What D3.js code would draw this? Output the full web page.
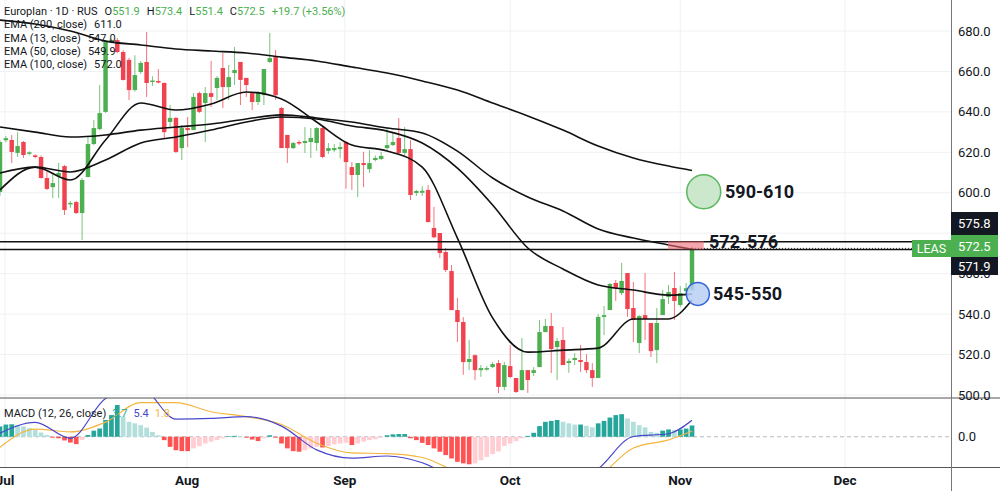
<!DOCTYPE html>
<html>
<head>
<meta charset="utf-8">
<script src="https://cdn.jsdelivr.net/npm/d3@7"></script>
<style>
  body { margin: 0; background: #ffffff; }
  svg { display: block; font-family: Roboto, "Noto Sans", sans-serif; }
</style>
</head>
<body>
<div id="chart"></div>
<script>
/////////////////////////////////////////////////////////
////////////////////// The data /////////////////////////
/////////////////////////////////////////////////////////

// Daily candles, one per trading session (index 0 = first visible bar)
var opens = [600.4, 626.0, 626.1, 619.7, 625.1, 619.3, 618.5, 617.7, 607.3, 602.8,
  608.3, 613.2, 594.4, 595.4, 590.0, 607.8, 624.1, 631.5, 640.0, 675.0,
  675.5, 669.6, 665.7, 650.8, 659.7, 664.7, 655.0, 655.3, 654.3, 635.0,
  637.0, 622.1, 632.0, 631.0, 649.3, 644.4, 649.3, 651.8, 661.7, 652.3,
  659.2, 664.7, 656.8, 649.3, 644.9, 648.3, 664.7, 667.1, 641.9, 628.6,
  622.1, 625.1, 624.6, 625.1, 624.6, 632.0, 620.7, 621.1, 621.6, 625.1,
  612.7, 608.8, 614.7, 611.7, 616.2, 616.7, 622.1, 623.6, 627.1, 619.7,
  621.6, 599.9, 600.0, 601.4, 582.6, 580.1, 570.7, 561.3, 542.0, 536.1,
  516.3, 519.7, 512.3, 512.8, 513.8, 515.8, 504.0, 514.3, 508.4, 502.4,
  512.3, 510.9, 513.8, 531.1, 534.1, 523.7, 527.2, 515.8, 517.3, 517.3,
  516.3, 512.3, 508.4, 538.6, 542.0, 555.4, 550.4, 560.3, 543.0, 525.7,
  539.5, 535.6, 522.2, 539.5, 548.4, 552.9, 544.5, 551.4, 551.9];
var highs = [626.0, 628.0, 628.6, 630.0, 625.6, 620.5, 619.0, 618.5, 610.3, 609.8,
  614.7, 613.7, 596.0, 596.0, 607.3, 627.6, 636.0, 653.3, 675.5, 676.0,
  676.5, 670.6, 666.7, 668.0, 665.2, 679.5, 657.6, 661.2, 654.5, 643.4,
  637.5, 633.5, 637.5, 649.3, 650.0, 652.3, 665.2, 657.7, 669.1, 663.2,
  672.1, 664.7, 656.8, 649.3, 650.3, 661.2, 679.0, 670.6, 642.4, 628.6,
  625.1, 626.0, 632.5, 632.0, 632.5, 632.5, 624.6, 624.1, 625.0, 625.6,
  615.2, 614.7, 620.2, 621.1, 618.5, 620.2, 632.5, 630.0, 637.0, 632.5,
  626.1, 601.4, 603.3, 603.8, 593.0, 580.1, 572.7, 564.2, 548.0, 538.5,
  527.2, 520.0, 514.8, 514.3, 516.3, 517.3, 516.3, 524.7, 508.4, 528.2,
  512.3, 513.8, 537.1, 537.6, 540.5, 528.2, 533.6, 518.0, 520.7, 524.7,
  520.2, 515.8, 540.0, 544.0, 555.4, 556.9, 565.3, 560.3, 555.9, 539.5,
  560.3, 535.6, 543.0, 551.9, 554.4, 560.8, 553.9, 555.4, 573.4];
var lows = [598.5, 625.0, 614.7, 617.7, 617.2, 618.5, 617.0, 607.0, 601.4, 597.4,
  597.4, 589.0, 592.5, 589.5, 576.6, 607.6, 623.6, 631.0, 639.5, 674.0,
  669.0, 655.5, 645.9, 650.0, 658.7, 647.4, 652.8, 654.0, 627.1, 632.5,
  619.7, 616.2, 622.6, 631.0, 639.5, 625.1, 642.4, 645.9, 641.9, 645.9,
  653.3, 643.4, 647.4, 640.9, 643.4, 643.4, 664.2, 645.9, 622.1, 614.7,
  621.6, 623.6, 619.7, 617.2, 620.7, 617.2, 619.2, 620.2, 617.0, 602.0,
  601.4, 597.9, 602.8, 609.8, 615.5, 616.2, 621.1, 623.1, 618.7, 618.7,
  596.4, 598.4, 598.4, 585.5, 577.6, 567.7, 560.8, 542.0, 526.2, 510.0,
  512.3, 507.4, 509.0, 512.0, 513.3, 501.0, 502.4, 508.4, 501.0, 502.4,
  501.0, 509.4, 513.8, 531.1, 510.9, 507.4, 514.8, 511.0, 514.8, 511.3,
  510.9, 504.0, 508.4, 529.6, 542.0, 546.5, 549.4, 538.6, 526.2, 520.7,
  527.2, 518.8, 515.8, 539.5, 545.0, 537.1, 543.5, 549.9, 551.4];
var closes = [625.1, 627.0, 620.2, 623.1, 618.7, 620.0, 617.7, 607.3, 601.9, 604.8,
  609.8, 591.5, 595.0, 590.0, 606.3, 624.1, 632.0, 639.4, 675.0, 675.6,
  669.6, 655.8, 650.8, 658.2, 664.2, 654.3, 655.5, 654.5, 630.0, 637.0,
  620.2, 632.0, 631.0, 647.4, 640.0, 649.3, 647.4, 656.8, 652.3, 657.2,
  660.7, 655.8, 653.3, 644.9, 649.8, 661.2, 666.6, 648.3, 622.1, 622.1,
  624.6, 624.6, 625.6, 627.1, 632.0, 617.7, 622.1, 622.1, 622.6, 615.2,
  608.8, 614.7, 613.7, 614.7, 617.2, 618.2, 623.6, 625.1, 619.7, 621.6,
  598.9, 600.9, 601.0, 585.5, 578.0, 570.2, 561.8, 542.0, 536.1, 516.3,
  517.8, 512.3, 513.3, 513.3, 515.3, 504.0, 514.8, 508.9, 501.5, 512.3,
  507.4, 512.3, 531.1, 534.1, 522.7, 526.7, 514.8, 516.8, 518.3, 516.3,
  512.3, 508.4, 538.6, 539.5, 554.9, 552.9, 556.4, 542.5, 537.1, 539.0,
  537.6, 521.7, 535.6, 547.4, 550.9, 546.5, 550.4, 552.8, 572.5];

// EMA values read every 6 bars
var emaIdx = [0, 6, 12, 18, 24, 30, 36, 42, 48, 54, 60, 66, 72, 78, 84, 90, 96, 102, 108, 114, 118];
var ema200 = [685.4, 683.5, 680.0, 675.0, 673.1, 671.1, 670.1, 669.1, 667.1, 665.2, 662.2,
  659.2, 655.3, 650.8, 644.4, 638.0, 631.0, 623.1, 617.2, 613.2, 611.0];
var ema100 = [632.5, 630.0, 627.6, 628.6, 631.0, 632.5, 634.0, 636.5, 638.5, 637.0, 635.0,
  632.0, 629.6, 620.6, 607.3, 597.9, 591.0, 582.1, 577.6, 574.2, 572.0];
var ema50 = [609.8, 612.7, 610.3, 616.2, 624.6, 627.6, 631.0, 635.0, 637.5, 636.5, 633.0,
  630.5, 624.6, 612.2, 594.0, 572.7, 562.3, 554.4, 551.9, 549.4, 549.9];
var ema13 = [601.4, 612.7, 606.3, 626.1, 644.4, 640.9, 643.9, 649.8, 646.4, 635.0, 623.6,
  620.7, 612.7, 577.6, 538.1, 521.2, 522.2, 523.2, 537.6, 537.6, 547.0];

// MACD (12, 26, close)
var macdHist = [3.4, 4.0, 4.1, 3.9, 3.4, 2.8, 2.2, 1.4, 0.6, -0.3,
  -0.5, -1.2, -1.9, -2.4, -1.0, 0.6, 2.0, 2.7, 5.5, 7.1,
  10.4, 6.6, 4.9, 4.4, 3.8, 3.0, 1.6, 0.5, -1.1, -3.3,
  -4.4, -4.7, -4.7, -3.8, -3.1, -2.2, -1.6, -1.1, -0.5, 0.2,
  0.3, 0.2, -0.3, -0.9, -1.4, -0.5, 0.5, -0.3, -2.2, -3.8,
  -4.7, -4.9, -4.4, -3.8, -3.3, -3.5, -3.0, -2.5, -2.2, -1.9,
  -2.7, -2.2, -1.6, -1.1, -0.8, -0.3, 0.5, 0.8, 0.9, 0.9,
  -0.5, -1.1, -2.0, -2.7, -3.8, -4.9, -6.0, -7.1, -8.2, -8.7,
  -9.0, -8.7, -7.7, -6.6, -5.7, -4.8, -3.0, -2.2, -1.4, -0.5,
  0.3, 1.3, 3.5, 4.9, 5.2, 5.5, 4.9, 4.4, 4.0, 4.0,
  3.6, 3.1, 4.4, 5.2, 6.3, 7.1, 7.4, 6.0, 4.9, 3.8,
  3.1, 1.6, 1.3, 2.0, 2.4, 2.2, 2.4, 2.7, 3.7];
var macdLine = [1.2, 4.7, -0.5, 12.5, 16.0, 5.8, 6.0, 6.6, 3.5, -4.3, -7.0,
  -6.3, -8.5, -14.0, -19.0, -20.0, -17.0, -10.5, 0.1, 1.0, 5.4];
var signalLine = [-3.4, 2.5, 1.6, 4.8, 11.2, 11.2, 8.2, 6.6, 4.0, -2.1, -5.3,
  -5.5, -6.8, -11.5, -15.0, -17.0, -17.0, -13.0, -3.7, -1.0, 1.8];

// Time axis (bar index of each month start)
var monthLabels = ['Jul', 'Aug', 'Sep', 'Oct', 'Nov', 'Dec'];
var monthIdx = [0.85, 31.9, 58.8, 87, 116, 144.1];

// Price axis and drawn levels
var priceTicks = [500, 520, 540, 560, 580, 600, 620, 640, 660, 680];
var levelPrices = [575.8, 571.9];
var lastPrice = 572.5;
var targetZone = [590, 610];
var resistZone = [572, 576];
var supportZone = [545, 550];

/////////////////////////////////////////////////////////
////////////////////// Layout ///////////////////////////
/////////////////////////////////////////////////////////

var width = 1000, height = 491;
var plotRight = 951;
var priceBottom = 398, macdBottom = 467.5;
var green = '#4caf50', red = '#f0434f', ink = '#131722';
var legendSize = '11px';

var x = d3.scaleLinear().domain([0, 118]).range([0, 692]);
var slot = x(1) - x(0);
var y = d3.scaleLinear().domain([500, 680]).range([395, 31]);
var ym = d3.scaleLinear().domain([-9.9, 12.7]).range([467, 398]);
var fmt = d3.format('.1f');

var svg = d3.select('#chart').append('svg')
  .attr('width', width)
  .attr('height', height);

var defs = svg.append('defs');
defs.append('clipPath').attr('id', 'clip-price')
  .append('rect').attr('x', 0).attr('y', 0).attr('width', plotRight).attr('height', priceBottom);
defs.append('clipPath').attr('id', 'clip-macd')
  .append('rect').attr('x', 0).attr('y', priceBottom).attr('width', plotRight).attr('height', macdBottom - priceBottom);

/////////////////////////////////////////////////////////
////////////////////// Grid /////////////////////////////
/////////////////////////////////////////////////////////

var grid = svg.append('g').attr('class', 'grid');
grid.selectAll('.hgrid')
  .data(priceTicks)
  .enter().append('line')
  .attr('x1', 0).attr('x2', plotRight)
  .attr('y1', function(d) { return y(d); })
  .attr('y2', function(d) { return y(d); })
  .style('stroke', '#eff1f4');
grid.selectAll('.vgrid')
  .data(monthIdx)
  .enter().append('line')
  .attr('x1', function(d) { return x(d); })
  .attr('x2', function(d) { return x(d); })
  .attr('y1', 0).attr('y2', macdBottom)
  .style('stroke', '#eff1f4');

// MACD zero line
svg.append('line')
  .attr('x1', 0).attr('x2', plotRight)
  .attr('y1', ym(0)).attr('y2', ym(0))
  .style('stroke', '#b7bac2')
  .style('stroke-dasharray', '4,3');

/////////////////////////////////////////////////////////
////////////////////// Candles //////////////////////////
/////////////////////////////////////////////////////////

var pricePane = svg.append('g').attr('clip-path', 'url(#clip-price)');
var candle = pricePane.selectAll('.candle')
  .data(d3.range(opens.length))
  .enter().append('g')
  .attr('class', 'candle');

candle.append('line')
  .attr('x1', function(i) { return x(i); })
  .attr('x2', function(i) { return x(i); })
  .attr('y1', function(i) { return y(highs[i]); })
  .attr('y2', function(i) { return y(lows[i]); })
  .style('stroke', function(i) { return closes[i] >= opens[i] ? green : red; })
  .style('stroke-opacity', 0.75)
  .style('stroke-width', 1);

candle.append('rect')
  .attr('x', function(i) { return x(i) - slot * 0.38; })
  .attr('width', slot * 0.76)
  .attr('y', function(i) { return y(Math.max(opens[i], closes[i])); })
  .attr('height', function(i) { return Math.max(1.5, Math.abs(y(opens[i]) - y(closes[i]))); })
  .style('fill', function(i) { return closes[i] >= opens[i] ? green : red; });

/////////////////////////////////////////////////////////
////////////////////// EMAs /////////////////////////////
/////////////////////////////////////////////////////////

var emaLine = d3.line()
  .x(function(d) { return x(d[0]); })
  .y(function(d) { return y(d[1]); })
  .curve(d3.curveMonotoneX);

[ema200, ema100, ema50, ema13].forEach(function(series) {
  pricePane.append('path')
    .datum(emaIdx.map(function(idx, k) { return [idx, series[k]]; }))
    .attr('d', emaLine)
    .style('fill', 'none')
    .style('stroke', '#111')
    .style('stroke-width', 1.6);
});

// Horizontal levels
levelPrices.forEach(function(p) {
  svg.append('line')
    .attr('x1', 0).attr('x2', plotRight)
    .attr('y1', y(p)).attr('y2', y(p))
    .style('stroke', '#111')
    .style('stroke-width', 1.5);
});
svg.append('line')
  .attr('x1', x(118)).attr('x2', plotRight)
  .attr('y1', y(lastPrice)).attr('y2', y(lastPrice))
  .style('stroke', '#333')
  .style('stroke-dasharray', '1,2');

/////////////////////////////////////////////////////////
////////////////////// Annotations //////////////////////
/////////////////////////////////////////////////////////

var ann = svg.append('g');
ann.append('rect')
  .attr('x', x(113.9)).attr('width', x(120) - x(113.9))
  .attr('y', y(resistZone[1])).attr('height', y(resistZone[0]) - y(resistZone[1]))
  .style('fill', '#ee6b77').style('fill-opacity', 0.6);
ann.append('circle')
  .attr('cx', x(120)).attr('cy', y(d3.mean(targetZone)) - 1)
  .attr('r', 17)
  .style('fill', '#cbe8cc').style('stroke', '#5cb85f').style('stroke-width', 1.5);
ann.append('circle')
  .attr('cx', x(119)).attr('cy', y(supportZone[1]))
  .attr('r', 11.5)
  .style('fill', '#b9cff5').style('fill-opacity', 0.85)
  .style('stroke', '#2f62d8').style('stroke-width', 1.5);

ann.append('text').attr('x', 725).attr('y', y(d3.mean(targetZone)) - 1).attr('dy', '0.35em')
  .style('font-size', '18px').style('font-weight', 'bold').style('fill', ink)
  .text(targetZone.join('-'));
ann.append('text').attr('x', 709).attr('y', y(resistZone[1]) + 0.5).attr('dy', '0.35em')
  .style('font-size', '18px').style('font-weight', 'bold').style('fill', ink)
  .text(resistZone.join('-'));
ann.append('text').attr('x', 713).attr('y', y(supportZone[1])).attr('dy', '0.35em')
  .style('font-size', '18px').style('font-weight', 'bold').style('fill', ink)
  .text(supportZone.join('-'));

/////////////////////////////////////////////////////////
////////////////////// MACD /////////////////////////////
/////////////////////////////////////////////////////////

var macdPane = svg.append('g').attr('clip-path', 'url(#clip-macd)');
macdPane.selectAll('.hist')
  .data(macdHist)
  .enter().append('rect')
  .attr('x', function(d, i) { return x(i) - slot * 0.4; })
  .attr('width', slot * 0.8)
  .attr('y', function(d) { return d >= 0 ? ym(d) : ym(0); })
  .attr('height', function(d) { return Math.abs(ym(d) - ym(0)); })
  .style('fill', function(d, i) {
    var prev = i > 0 ? macdHist[i - 1] : d - 1;
    if (d >= 0) return d >= prev ? '#26a69a' : '#b2dfdb';
    return d <= prev ? '#ff5252' : '#ffcdd2';
  });

var macdPath = d3.line()
  .x(function(d) { return x(d[0]); })
  .y(function(d) { return ym(d[1]); })
  .curve(d3.curveMonotoneX);
macdPane.append('path')
  .datum(emaIdx.map(function(idx, k) { return [idx, signalLine[k]]; }))
  .attr('d', macdPath)
  .style('fill', 'none').style('stroke', '#f4b63f').style('stroke-width', 1.2);
macdPane.append('path')
  .datum(emaIdx.map(function(idx, k) { return [idx, macdLine[k]]; }))
  .attr('d', macdPath)
  .style('fill', 'none').style('stroke', '#4a46cc').style('stroke-width', 1.2);

/////////////////////////////////////////////////////////
////////////////////// Frame & axes /////////////////////
/////////////////////////////////////////////////////////

svg.append('line').attr('x1', 0).attr('x2', width).attr('y1', priceBottom).attr('y2', priceBottom)
  .style('stroke', '#555').style('stroke-width', 1.2);
svg.append('line').attr('x1', 0).attr('x2', width).attr('y1', macdBottom).attr('y2', macdBottom)
  .style('stroke', '#555').style('stroke-width', 1.2);
svg.append('line').attr('x1', plotRight + 0.5).attr('x2', plotRight + 0.5).attr('y1', 0).attr('y2', height)
  .style('stroke', '#777').style('stroke-width', 1);

// Right price axis (580 sits fully under the level tags, so it is not labelled)
svg.selectAll('.ptick')
  .data(priceTicks.filter(function(d) { return y(d) < 210 || y(d) > 262; }))
  .enter().append('text')
  .attr('x', 958)
  .attr('y', function(d) { return y(d); })
  .attr('dy', '0.35em')
  .style('font-size', '13px')
  .style('fill', ink)
  .text(function(d) { return fmt(d); });
svg.append('text').attr('x', 958).attr('y', ym(0)).attr('dy', '0.35em')
  .style('font-size', '13px').style('fill', ink).text(fmt(0));

// Level labels on the axis
var tags = [
  {v: levelPrices[0], top: 212, bottom: 235, fill: ink},
  {v: lastPrice, top: 235, bottom: 257, fill: green},
  {v: levelPrices[1], top: 257, bottom: 275, fill: ink}
];
tags.forEach(function(t) {
  svg.append('rect').attr('x', plotRight).attr('y', t.top)
    .attr('width', 47).attr('height', t.bottom - t.top).style('fill', t.fill);
  svg.append('text').attr('x', 958).attr('y', (t.top + t.bottom) / 2).attr('dy', '0.35em')
    .style('font-size', '13px').style('fill', '#fff').text(fmt(t.v));
});
svg.append('rect').attr('x', 912).attr('y', 240).attr('width', plotRight - 912).attr('height', 17)
  .style('fill', green);
svg.append('text').attr('x', 931.5).attr('y', 248.5).attr('dy', '0.35em')
  .attr('text-anchor', 'middle')
  .style('font-size', '12.5px').style('fill', '#fff').text('LEAS');

// Month labels
svg.selectAll('.month')
  .data(monthLabels)
  .enter().append('text')
  .attr('x', function(d, i) { return x(monthIdx[i]); })
  .attr('y', 480)
  .attr('dy', '0.35em')
  .attr('text-anchor', 'middle')
  .style('font-size', '13.5px')
  .style('font-weight', 'bold')
  .style('fill', ink)
  .text(function(d) { return d; });

/////////////////////////////////////////////////////////
////////////////////// Legends //////////////////////////
/////////////////////////////////////////////////////////

var last = opens.length - 1;
var change = closes[last] - closes[last - 1];
var head = svg.append('text').attr('y', 11).attr('dy', '0.35em').style('font-size', legendSize);
head.append('tspan').attr('x', 4).style('fill', ink).text('Europlan · 1D · RUS');
[['O', opens[last]], ['H', highs[last]], ['L', lows[last]], ['C', closes[last]]]
  .forEach(function(p) {
    head.append('tspan').attr('dx', 7).style('fill', ink).text(p[0]);
    head.append('tspan').style('fill', green).text(fmt(p[1]));
  });
head.append('tspan').attr('dx', 7).style('fill', green)
  .text('+' + fmt(change) + ' (+' + d3.format('.2f')(change / closes[last - 1] * 100) + '%)');

var emaLegend = [['EMA (200, close)', ema200], ['EMA (13, close)', ema13],
  ['EMA (50, close)', ema50], ['EMA (100, close)', ema100]];
emaLegend.forEach(function(e, k) {
  var t = svg.append('text').attr('x', 4).attr('y', 24.5 + k * 13.3).attr('dy', '0.35em')
    .style('font-size', legendSize).style('fill', ink);
  t.append('tspan').text(e[0]);
  t.append('tspan').attr('dx', 7).text(fmt(e[1][e[1].length - 1]));
});

var ml = svg.append('text').attr('x', 4).attr('y', 413).attr('dy', '0.35em').style('font-size', legendSize);
ml.append('tspan').style('fill', ink).text('MACD (12, 26, close)');
ml.append('tspan').attr('dx', 6).style('fill', '#26a69a').text(fmt(macdHist[last]));
ml.append('tspan').attr('dx', 6).style('fill', '#4a46cc').text(fmt(macdLine[macdLine.length - 1]));
ml.append('tspan').attr('dx', 6).style('fill', '#f4b63f').text(fmt(signalLine[signalLine.length - 1]));
</script>
</body>
</html>
